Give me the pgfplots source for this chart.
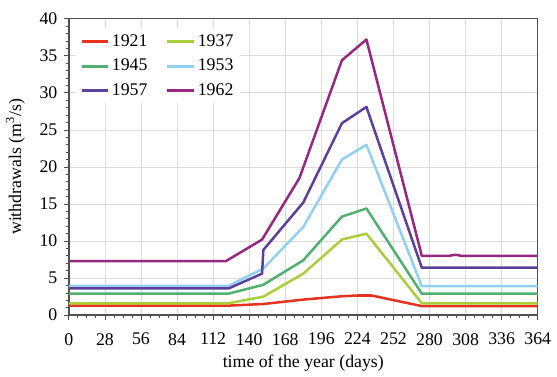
\documentclass[border=0pt]{standalone}
\usepackage{pgfplots}
\pgfplotsset{compat=1.18}
\usepackage{fontspec}
\setmainfont{Liberation Serif}
\definecolor{c1921}{RGB}{230,50,30}
\definecolor{c1937}{RGB}{168,206,58}
\definecolor{c1945}{RGB}{80,176,110}
\definecolor{c1953}{RGB}{145,208,240}
\definecolor{c1957}{RGB}{92,64,155}
\definecolor{c1962}{RGB}{150,40,130}
\definecolor{gridc}{RGB}{228,218,218}
\definecolor{axc}{RGB}{80,80,80}
\begin{document}
\fontsize{13.5}{15}\selectfont
\begin{tikzpicture}
\begin{axis}[
  scale only axis,
  width=356pt, height=225pt,
  xmin=0, xmax=364, ymin=0, ymax=40,
  xtick={0,28,...,364}, ytick={0,5,...,40},
  minor x tick num=3, minor y tick num=4,
  tick align=outside, tick pos=left,
  major tick length=4pt, minor tick length=2.5pt,
  every tick/.style={axc, line width=0.6pt},
  axis line style={axc, line width=1.1pt},
  grid=major, major grid style={gridc, line width=0.6pt},
  /pgf/number format/assume math mode=true,
  tick label style={font=\fontsize{13.5}{15}\selectfont},
  xticklabel style={yshift=-5pt},
  label style={font=\fontsize{13.5}{15}\selectfont},
  xlabel={time of the year (days)},
  ylabel={withdrawals (m\textsuperscript{3}/s)},
  xlabel style={yshift=2pt},
  ylabel style={yshift=2pt},
  legend columns=2,
  legend style={at={(0.015,0.965)}, anchor=north west, draw=none, fill=white,
    font=\fontsize{13.5}{15}\selectfont, row sep=3.5pt,
    /tikz/every even column/.append style={column sep=12pt}},
  legend image code/.code={\draw[#1, line width=2.2pt] (0pt,0pt) -- (20pt,0pt);},
  every axis plot/.append style={line width=1.9pt, line join=round},
]
\addplot[c1921] coordinates {(0,1.3) (126,1.3) (151,1.5) (182,2.1) (212,2.55) (224,2.65) (235,2.65) (274,1.22) (364,1.22)};
\addlegendentry{1921}
\addplot[c1937] coordinates {(0,1.6) (124,1.6) (151,2.5) (182,5.6) (212,10.2) (231,11.0) (274,1.6) (364,1.6)};
\addlegendentry{1937}
\addplot[c1945] coordinates {(0,2.9) (124,2.9) (151,4.1) (182,7.4) (212,13.3) (231,14.4) (274,2.9) (364,2.9)};
\addlegendentry{1945}
\addplot[c1953] coordinates {(0,3.95) (124,3.95) (151,6.3) (182,11.9) (212,21.0) (231,23.0) (274,3.9) (364,3.9)};
\addlegendentry{1953}
\addplot[c1957] coordinates {(0,3.6) (124,3.6) (150,5.6) (151,8.8) (182,15.2) (212,25.9) (231,28.1) (274,6.4) (364,6.4)};
\addlegendentry{1957}
\addplot[c1962] coordinates {(0,7.3) (122,7.3) (150,10.2) (179,18.5) (212,34.4) (231,37.2) (274,8.0) (295,8.0) (300,8.15) (305,8.0) (364,8.0)};
\addlegendentry{1962}
\end{axis}
\path[use as bounding box] ([xshift=-51pt,yshift=-45.75pt]current axis.south west) rectangle ([xshift=10.5pt,yshift=14.25pt]current axis.north east);
\end{tikzpicture}
\end{document}
